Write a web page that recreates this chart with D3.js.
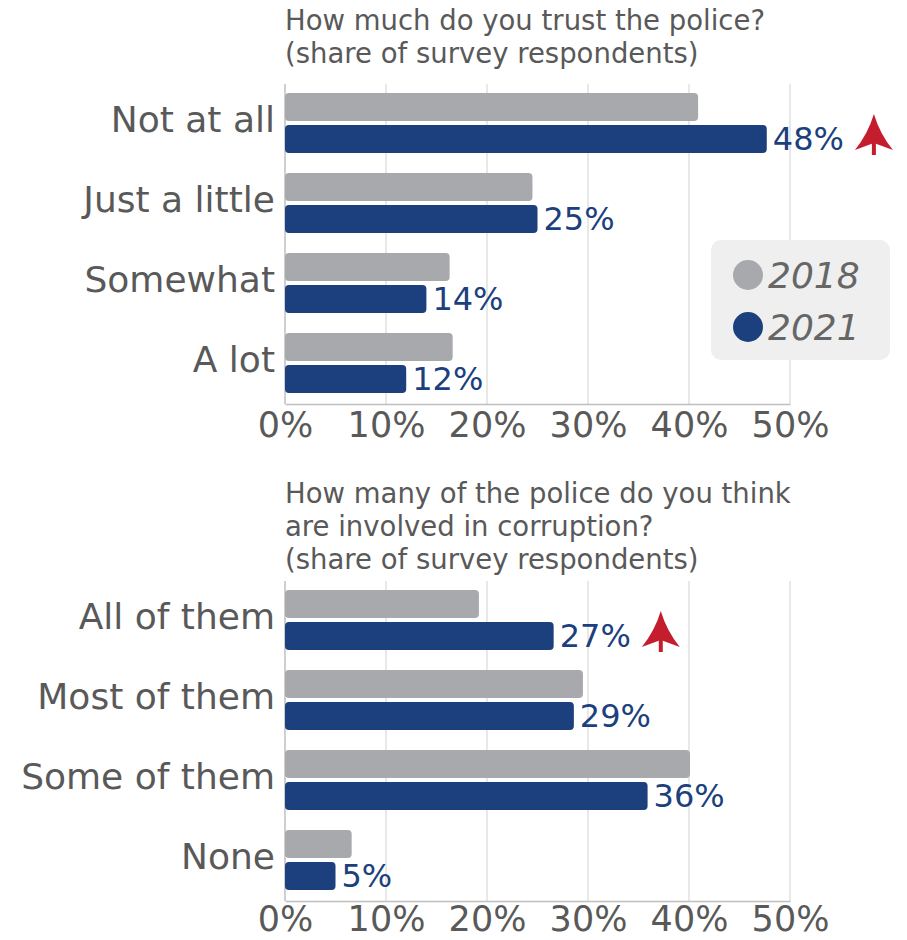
<!DOCTYPE html>
<html><head><meta charset="utf-8">
<script src="https://cdn.jsdelivr.net/npm/d3@7"></script>
<style>
html,body{margin:0;padding:0;background:#fff;}
svg{display:block;font-family:"DejaVu Sans",Verdana,sans-serif;}
</style></head>
<body><svg id="c" width="907" height="940"></svg>
<script>
// ---- data ----
const years = ["2018", "2021"];
const trustTitle = ["How much do you trust the police?", "(share of survey respondents)"];
const trustCats = ["Not at all", "Just a little", "Somewhat", "A lot"];
const trust2018 = [40.9, 24.5, 16.3, 16.6];
const trust2021 = [47.7, 25.0, 14.0, 12.0];
const trustUp = ["Not at all"];

const corrTitle = ["How many of the police do you think", "are involved in corruption?", "(share of survey respondents)"];
const corrCats = ["All of them", "Most of them", "Some of them", "None"];
const corr2018 = [19.2, 29.5, 40.1, 6.6];
const corr2021 = [26.6, 28.6, 35.9, 5.0];
const corrUp = ["All of them"];

const xTicks = [0, 10, 20, 30, 40, 50];

// ---- styles ----
const GRAY = "#a7a9ac", BLUE = "#1c3f7d", TEXT = "#595959", RED = "#c41e2e";
const svg = d3.select("#c");
const x = d3.scaleLinear().domain([0, 50]).range([285, 790]);
const color = d3.scaleOrdinal().domain(years).range([GRAY, BLUE]);

function panel(cats, v18, v21, up, title, top, titleBase, tickPad) {
  const g = svg.append("g");
  const y0 = d3.scaleBand().domain(cats).range([top, top + 320]);
  const y1 = d3.scaleBand().domain(years).range([9, 69]).paddingInner(0.125);
  const rows = cats.map((c, i) => ({cat: c, vals: [{yr: "2018", v: v18[i]}, {yr: "2021", v: v21[i]}]}));

  // title
  g.append("g").selectAll("text").data(title).join("text")
    .attr("x", 285).attr("y", (d, i) => titleBase + i * 33)
    .attr("fill", TEXT).attr("font-size", 27.5).text(d => d);

  // gridlines
  g.append("g").selectAll("line").data(xTicks.filter(t => t > 0)).join("line")
    .attr("x1", d => x(d)).attr("x2", d => x(d))
    .attr("y1", top).attr("y2", top + 320)
    .attr("stroke", "#d9d9d9").attr("stroke-width", 1.2);

  // axis
  const ax = g.append("g").attr("transform", `translate(0,${top + 320})`)
    .call(d3.axisBottom(x).tickValues(xTicks).tickFormat(d => d + "%").tickSize(0).tickPadding(tickPad));
  ax.select(".domain").attr("stroke", "#bfbfbf").attr("stroke-width", 1.5);
  ax.selectAll("text").attr("font-size", 35).attr("fill", TEXT)
    .attr("font-family", "DejaVu Sans, Verdana, sans-serif");
  g.append("line").attr("x1", x(0)).attr("x2", x(0)).attr("y1", top).attr("y2", top + 320)
    .attr("stroke", "#bfbfbf").attr("stroke-width", 1.5);

  // category labels
  g.append("g").selectAll("text").data(cats).join("text")
    .attr("x", 275).attr("y", d => y0(d) + 48)
    .attr("text-anchor", "end").attr("fill", TEXT).attr("font-size", 36).text(d => d);

  // bars
  const rg = g.append("g").selectAll("g").data(rows).join("g")
    .attr("transform", d => `translate(0,${y0(d.cat)})`);
  rg.selectAll("rect").data(d => d.vals).join("rect")
    .attr("x", x(0)).attr("y", d => y1(d.yr))
    .attr("width", d => x(d.v) - x(0)).attr("height", y1.bandwidth())
    .attr("rx", 4).attr("fill", d => color(d.yr));

  // value labels for 2021
  const labels = rg.append("text")
    .attr("x", d => x(d.vals[1].v) + 6)
    .attr("y", y1("2021") + y1.bandwidth() / 2 + 11)
    .attr("fill", BLUE).attr("font-size", 32)
    .text(d => Math.round(d.vals[1].v) + "%");

  // arrows
  labels.each(function(d) {
    if (!up.includes(d.cat)) return;
    const end = x(d.vals[1].v) + 6 + this.getComputedTextLength();
    const cx = end + 30;
    const cy = y0(d.cat) + y1("2021") + y1.bandwidth() / 2;
    const tip = cy - 25, wing = cy + 11, notch = cy + 4;
    g.append("path")
      .attr("d", `M${cx},${tip} Q${cx + 6},${cy - 5} ${cx + 19},${wing} L${cx},${notch} L${cx - 19},${wing} Q${cx - 6},${cy - 5} ${cx},${tip} Z`)
      .attr("fill", RED);
    g.append("rect").attr("x", cx - 2).attr("y", notch - 2).attr("width", 4).attr("height", 14).attr("fill", RED);
  });
  return g;
}

panel(trustCats, trust2018, trust2021, trustUp, trustTitle, 84, 30, 8);
panel(corrCats, corr2018, corr2021, corrUp, corrTitle, 581, 503, 5);

// legend
const leg = svg.append("g");
leg.append("rect").attr("x", 711).attr("y", 240).attr("width", 179).attr("height", 120)
  .attr("rx", 10).attr("fill", "#efefef");
const li = leg.selectAll("g").data(years).join("g")
  .attr("transform", (d, i) => `translate(0,${275 + i * 52})`);
li.append("circle").attr("cx", 748).attr("cy", 0).attr("r", 15).attr("fill", d => color(d));
li.append("text").attr("x", 768).attr("y", 13).attr("font-size", 36).attr("font-style", "italic")
  .attr("fill", "#666").text(d => d);
</script>
</body></html>
